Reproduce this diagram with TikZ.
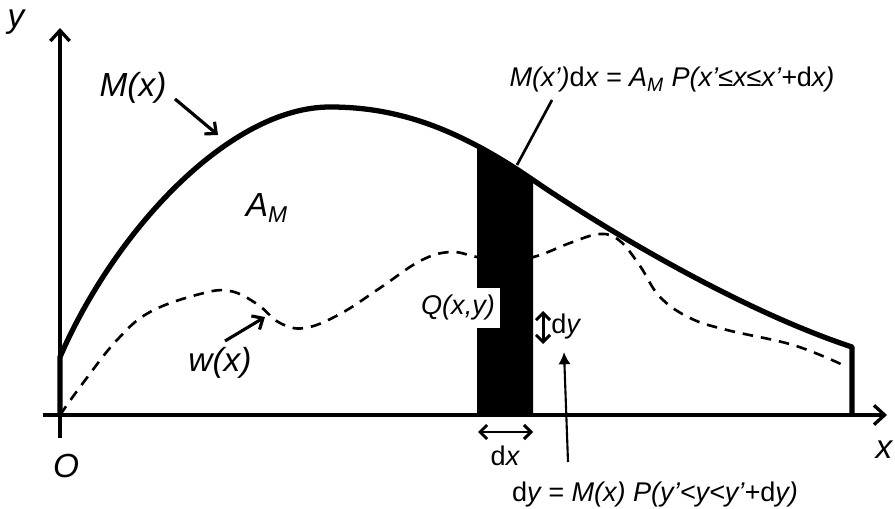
\documentclass[tikz,border=0pt]{standalone}
\usepackage{fontspec}
\setmainfont{Liberation Sans}
\usetikzlibrary{arrows.meta}
\tikzset{
  axisline/.style={line width=1.9pt},
  curveline/.style={line width=3pt, line join=round},
  wline/.style={line width=1.5pt, dash pattern=on 6pt off 4.5pt},
  pointer/.style={line width=1.8pt, -{Straight Barb[length=5pt,width=9pt,line width=1.8pt]}},
  dbl/.style={line width=1.7pt, {Straight Barb[length=4pt,width=8pt,line width=1.7pt]}-{Straight Barb[length=4pt,width=8pt,line width=1.7pt]}},
  lbl/.style={inner sep=0pt, font=\itshape\fontsize{15.4}{18}\selectfont},
  biglbl/.style={inner sep=0pt, font=\itshape\fontsize{19}{21}\selectfont},
}
\begin{document}
\begin{tikzpicture}[x=0.02cm,y=-0.02cm]
\useasboundingbox (0,0) rectangle (895,509);
% dashed w(x)
\draw[wline] plot[smooth, tension=0.65] coordinates {(60,415) (83,383) (117,340) (150,312) (200,294) (230,291) (257,304) (280,323) (305,328) (340,314) (380,288) (420,261) (450,252) (477,257) (505,262) (537,256) (570,243) (600,234) (620,241) (640,266) (660,297) (690,318) (727,330) (793,345) (843,365)};
% black strip
\begin{scope}
\clip (477,0) rectangle (533,415);
\fill (60,415) -- (60,357) .. controls (115,230) and (230,107) .. (330,107)
  .. controls (400,107) and (460,130) .. (533,180)
  .. controls (606,230) and (740,310) .. (852,347) -- (852,415) -- cycle;
\end{scope}
% axes
\coordinate (yb) at (60,438);
\coordinate (yt) at (60,28);
\coordinate (xl) at (43,415);
\coordinate (xr) at (887,415);
\draw[axisline, -{Straight Barb[length=6pt,width=11pt,line width=1.9pt]}] (yb) -- (yt);
\draw[axisline, -{Straight Barb[length=6pt,width=11pt,line width=1.9pt]}] (xl) -- (xr);
% M(x) curve
\draw[curveline] (60,415) -- (60,357) .. controls (115,230) and (230,107) .. (330,107)
  .. controls (400,107) and (460,130) .. (533,180)
  .. controls (606,230) and (740,310) .. (852,347) -- (852,415);
% labels
\node[biglbl] (ylab) at (16,22) {y};
\node[biglbl] (xlab) at (884,450) {x};
\node[biglbl] (olab) at (66,466) {O};
\node[biglbl] (mlab) at (133,88) {M(x)};
\node[biglbl] (amlab) at (267,208) {A\textsubscript{\fontsize{13}{14}\selectfont M}};
\node[biglbl] (wlab) at (220,363) {w(x)};
\coordinate (mtip) at (218,135);
\coordinate (mtail) at (175,99);
\draw[pointer] (mtail) -- (mtip);
\coordinate (wtail) at (225,341);
\coordinate (wtip) at (265,317);
\draw[pointer] (wtail) -- (wtip);
% Q node
\node[lbl, fill=white, inner xsep=3pt, inner ysep=4pt] (q) at (458,308) {Q(x,y)};
% dy arrow
\coordinate (dyt) at (543,311);
\coordinate (dyb) at (543,344);
\draw[dbl] (dyt) -- (dyb);
\node[lbl, anchor=west] (dylab) at (551,327) {\textup{d}y};
% dx arrow
\coordinate (dxl) at (478,432);
\coordinate (dxr) at (533,432);
\draw[dbl] (dxl) -- (dxr);
\node[lbl] (dxlab) at (505,456) {\textup{d}x};
% top label
\node[lbl] (toplab) at (672,80) {M(x')\textup{d}x = A\textsubscript{\fontsize{11}{12}\selectfont M} P(x'≤x≤x'+\textup{d}x)};
\coordinate (topend) at (517,165);
\coordinate (topstart) at (552,100);
\draw[line width=1.5pt] (topstart) -- (topend);
% bottom label
\node[lbl] (botlab) at (655,495) {\textup{d}y = M(x) P(y'<y<y'+\textup{d}y)};
\coordinate (btail) at (568,462);
\coordinate (btip) at (564,352);
\draw[line width=1.2pt, -{Latex[length=7pt,width=7pt]}] (btail) -- (btip);
\end{tikzpicture}
\end{document}
